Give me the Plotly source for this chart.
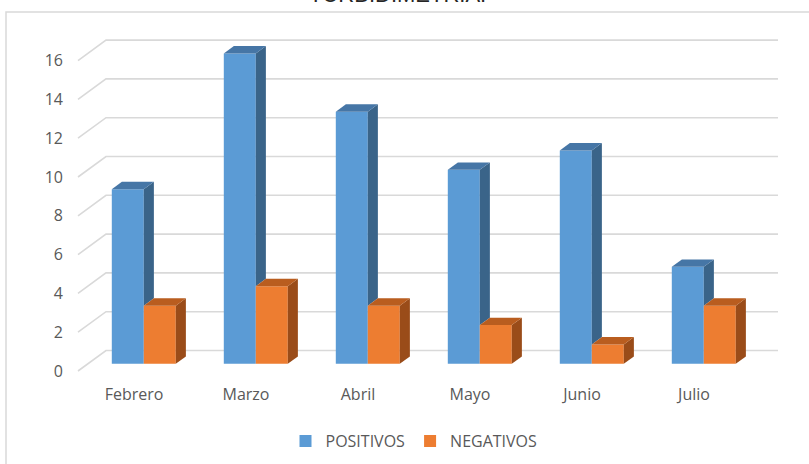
import plotly.graph_objects as go

# ---- data ----
meses = ["Febrero", "Marzo", "Abril", "Mayo", "Junio", "Julio"]
positivos = [9, 16, 13, 10, 11, 5]
negativos = [3, 4, 3, 2, 1, 3]
y_ticks = [0, 2, 4, 6, 8, 10, 12, 14, 16]
titulo = "TURBIDIMETRIA."

# ---- geometry (pixel layout of the plot area) ----
W, H = 809, 464
L, R, T, B = 70, 795, 30, 383
X0PX, XSTEP = 134, 112          # pixel of category 0 on the front plane, px per category
Y0PX, YSTEP = 371, 19.4         # pixel of value 0 on the front plane, px per unit
DX, DY = 28 / XSTEP, 20.5 / YSTEP   # full depth shift in data units
D0, DD = 0.35, 0.36             # bar front depth and bar thickness (fraction of depth)
BW = 32 / XSTEP                 # bar width in data units

xr0 = (L - X0PX) / XSTEP
xr1 = (R - X0PX) / XSTEP
yr0 = (Y0PX - B) / YSTEP
yr1 = (Y0PX - T) / YSTEP

def px_x(p):
    return (p - L) / (R - L)

def px_y(q):
    return (B - q) / (B - T)

fig = go.Figure()

series = [
    ("POSITIVOS", positivos, -BW, "#5B9BD5", "#4676A6", "#3A6489"),
    ("NEGATIVOS", negativos, 0.0, "#ED7D31", "#B95D1F", "#9A4C19"),
]

base = D0 * DY
gcent = [i + D0 * DX for i in range(len(meses))]
sdx, sdy = DD * DX, DD * DY

# front faces
for name, vals, off, cf, ct, cs in series:
    fig.add_trace(go.Bar(
        x=gcent, y=vals, base=base, width=BW, offset=off, name=name,
        marker=dict(color=cf, line=dict(color=cf, width=0)),
        hoverinfo="skip",
    ))

# sides and tops (scatter fills, drawn above the bar layer)
for k, (name, vals, off, cf, ct, cs) in enumerate(series):
    for i, v in enumerate(vals):
        xl = gcent[i] + off
        xr = xl + BW
        t = base + v
        low = base
        if k == 0:
            low = max(base, base + series[1][1][i])
        sx = [xr, xr + sdx, xr + sdx, xr, xr]
        sy = [low, low + sdy, t + sdy, t, low]
        fig.add_trace(go.Scatter(x=sx, y=sy, fill="toself", fillcolor=cs, mode="lines",
                                 line=dict(width=0, color=cs), showlegend=False, hoverinfo="skip"))
        tx = [xl, xl + sdx, xr + sdx, xr, xl]
        ty = [t, t + sdy, t + sdy, t, t]
        fig.add_trace(go.Scatter(x=tx, y=ty, fill="toself", fillcolor=ct, mode="lines",
                                 line=dict(width=0, color=ct), showlegend=False, hoverinfo="skip"))

# 3D gridlines (side wall + back wall)
xa, xb = -0.5, len(meses) - 0.5
for v in y_ticks:
    fig.add_shape(type="path", xref="x", yref="y", layer="below",
                  path=f"M{xa},{v} L{xa + DX},{v + DY} L{xb + DX},{v + DY}",
                  line=dict(color="#D9D9D9", width=1.6))

# chart border
fig.add_shape(type="rect", xref="paper", yref="paper",
              x0=px_x(6), x1=px_x(815), y0=px_y(470), y1=px_y(12),
              line=dict(color="#D9D9D9", width=1.5), layer="below")

# title (cut at the top as in the reference)
fig.add_annotation(text=titulo, xref="paper", yref="paper", x=px_x(397), y=px_y(-5),
                   showarrow=False, xanchor="center", yanchor="middle",
                   font=dict(family="Liberation Sans, Arial", size=22, color="#262626"))

fig.update_layout(
    width=W, height=H,
    margin=dict(l=L, r=W - R, t=T, b=H - B, pad=0, autoexpand=False),
    paper_bgcolor="white", plot_bgcolor="white",
    barmode="overlay",
    font=dict(family="Open Sans, sans-serif", size=16, color="#595959"),
    xaxis=dict(range=[xr0, xr1], tickvals=list(range(len(meses))), ticktext=meses,
               showgrid=False, zeroline=False, showline=False, ticks="",
               tickfont=dict(size=16, color="#595959")),
    yaxis=dict(range=[yr0, yr1], tickvals=y_ticks, showgrid=False, zeroline=False,
               showline=False, ticks="", ticklabelstandoff=6,
               tickfont=dict(size=16, color="#595959")),
    legend=dict(orientation="h", x=px_x(414), xanchor="center", y=px_y(441), yanchor="middle",
                font=dict(size=16, color="#595959"), traceorder="normal"),
)

fig.write_html("out.html")
